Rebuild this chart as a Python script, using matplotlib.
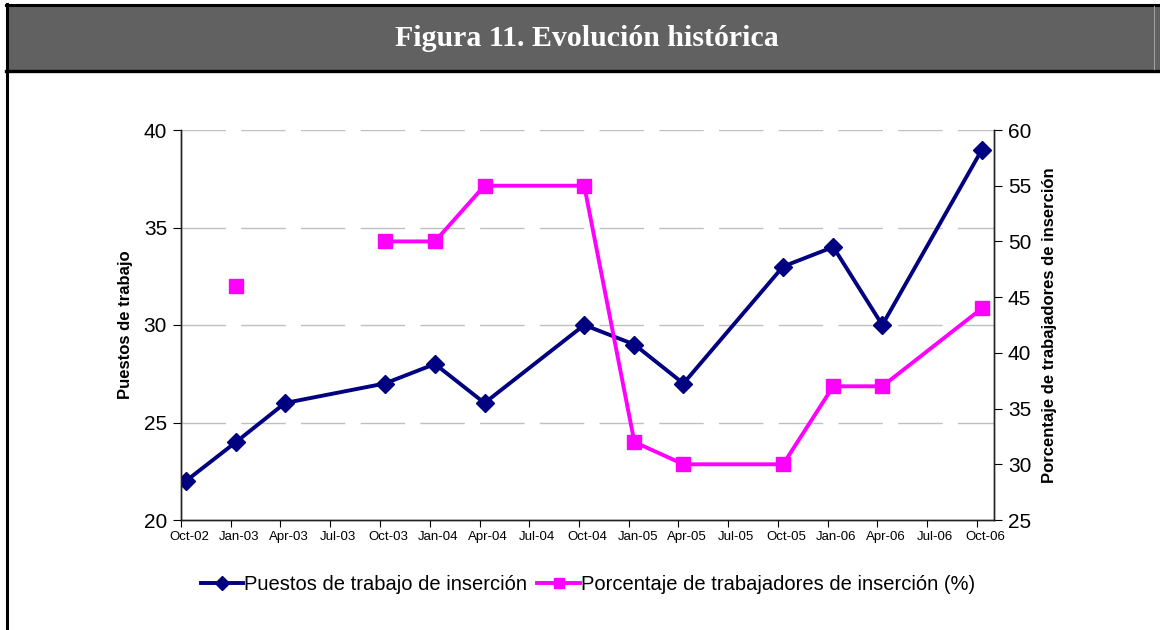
import numpy as np
import pandas as pd
import matplotlib
matplotlib.use('Agg')
import matplotlib.pyplot as plt
from matplotlib.patches import Rectangle
from matplotlib.lines import Line2D

# data
fechas = ['2002-10-10', '2003-01-10', '2003-04-10', '2003-10-10', '2004-01-10', '2004-04-10',
          '2004-10-10', '2005-01-10', '2005-04-10', '2005-10-10', '2006-01-10', '2006-04-10', '2006-10-10']
puestos = [22, 24, 26, 27, 28, 26, 30, 29, 27, 33, 34, 30, 39]
porcentaje = [np.nan, 46, np.nan, 50, 50, 55, 55, 32, 30, 30, 37, 37, 44]
tick_labels = ['Oct-02', 'Jan-03', 'Apr-03', 'Jul-03', 'Oct-03', 'Jan-04', 'Apr-04', 'Jul-04', 'Oct-04',
               'Jan-05', 'Apr-05', 'Jul-05', 'Oct-05', 'Jan-06', 'Apr-06', 'Jul-06', 'Oct-06']

plt.rcParams['font.family'] = ['Liberation Sans', 'DejaVu Sans']

W, H = 1160, 630
x = pd.to_datetime(fechas)
porc = np.array(porcentaje, dtype=float)  # Apr-03 missing -> Jan-03 stays isolated

fig = plt.figure(figsize=(11.6, 6.3), dpi=100)
fig.patch.set_facecolor('white')

# title bar and frame (pixel coords -> figure fractions)
fx = lambda px: px / W
fy = lambda py: 1 - py / H
fig.add_artist(Rectangle((fx(6), fy(71)), 1.0, fy(5) - fy(71), transform=fig.transFigure,
                         facecolor='#616161', edgecolor='none'))
fig.add_artist(Line2D([fx(6), 1], [fy(5), fy(5)], transform=fig.transFigure, color='black', lw=2.2))
fig.add_artist(Line2D([fx(6), 1], [fy(70.5), fy(70.5)], transform=fig.transFigure, color='black', lw=2.4))
fig.add_artist(Line2D([fx(7), fx(7)], [0, fy(4)], transform=fig.transFigure, color='black', lw=2.2))
fig.add_artist(Line2D([fx(1153.5), fx(1153.5)], [fy(69), fy(6)], transform=fig.transFigure,
                      color='#a0a0a0', lw=0.8))
fig.text(fx(587), fy(39), 'Figura 11. Evolución histórica', ha='center', va='center',
         color='white', fontsize=21.5, fontweight='bold', family=['Liberation Serif', 'DejaVu Serif'])

ax = fig.add_axes([fx(181), fy(520), fx(994) - fx(181), 390 / H])
ax2 = ax.twinx()

start = pd.Timestamp('2002-10-01')
end = pd.Timestamp('2006-11-01')
major = pd.date_range(start, '2006-10-01', freq='3MS')
label_pos = major + pd.Timedelta(days=15)

ax.plot(x, puestos, color='#000080', lw=2.8, marker='D', markersize=9, zorder=3,
        label='Puestos de trabajo de inserción')
ax2.plot(x, porc, color='#FF00FF', lw=2.8, marker='s', markersize=10.5, zorder=3,
         label='Porcentaje de trabajadores de inserción (%)')

ax.set_xlim(start, end)
ax.set_ylim(20, 40)
ax.set_yticks([20, 25, 30, 35, 40])
ax2.set_ylim(25, 60)
ax2.set_yticks(np.arange(25, 61, 5))

for v in [25, 30, 35, 40]:
    ax.axhline(v, color='#c0c0c0', lw=1, linestyle=(0, (32, 11)), zorder=0)

ax.set_xticks(major)
ax.set_xticklabels([])
ax.set_xticks(label_pos, minor=True)
ax.set_xticklabels(tick_labels, minor=True, fontsize=9.5)
ax.tick_params(axis='x', which='minor', length=0, pad=8)
ax.tick_params(axis='x', which='major', length=5, direction='out')
ax.tick_params(axis='y', length=6, direction='out', labelsize=15, pad=4)
ax2.tick_params(axis='y', length=6, direction='out', labelsize=15, pad=4)

for a in (ax, ax2):
    a.spines['top'].set_visible(False)
    for s in ('left', 'right', 'bottom'):
        a.spines[s].set_linewidth(1)
        a.spines[s].set_color('#222222')

ax.set_ylabel('Puestos de trabajo', fontsize=12, fontweight='bold', labelpad=8)
ax2.set_ylabel('Porcentaje de trabajadores de inserción', fontsize=12, fontweight='bold', labelpad=8)

h1, l1 = ax.get_legend_handles_labels()
h2, l2 = ax2.get_legend_handles_labels()
fig.legend(h1 + h2, l1 + l2, loc='center', bbox_to_anchor=(fx(588), fy(585)), ncol=2,
           frameon=False, fontsize=14.5, handlelength=2.1, handletextpad=0.05, columnspacing=0.5,
           markerscale=0.75)

fig.savefig('out.png', dpi=100)
